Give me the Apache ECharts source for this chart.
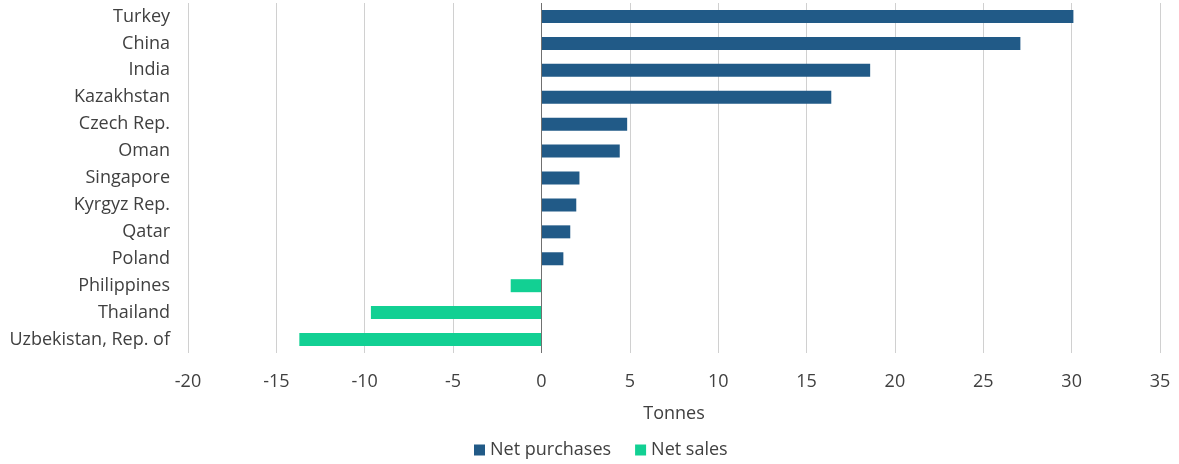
<!DOCTYPE html>
<html>
<head>
<meta charset="utf-8">
<script src="https://cdn.jsdelivr.net/npm/echarts@6/dist/echarts.min.js"></script>
<style>html,body{margin:0;padding:0;background:#fff;}#c{width:1179px;height:464px;}</style>
</head>
<body>
<div id="c"></div>
<script>
const categories = ['Turkey','China','India','Kazakhstan','Czech Rep.','Oman','Singapore','Kyrgyz Rep.','Qatar','Poland','Philippines','Thailand','Uzbekistan, Rep. of'];
const netPurchases = [30.1, 27.1, 18.6, 16.4, 4.85, 4.43, 2.15, 1.97, 1.63, 1.24, '-', '-', '-'];
const netSales = ['-', '-', '-', '-', '-', '-', '-', '-', '-', '-', -1.74, -9.65, -13.7];
const xTicks = {min: -20, max: 35, interval: 5};

const chart = echarts.init(document.getElementById('c'));
const font = "'Open Sans', 'Noto Sans', sans-serif";
chart.setOption({
  animation: false,
  textStyle: {fontFamily: font},
  grid: {left: 188, right: 19, top: 3, bottom: 111, containLabel: false},
  xAxis: {
    type: 'value', min: xTicks.min, max: xTicks.max, interval: xTicks.interval,
    name: 'Tonnes', nameLocation: 'middle', nameGap: 52,
    nameTextStyle: {color: '#404040', fontSize: 18, fontFamily: font},
    axisLine: {show: false}, axisTick: {show: false},
    axisLabel: {color: '#404040', fontSize: 18, margin: 20, fontFamily: font},
    splitLine: {show: true, lineStyle: {color: '#d0d0d0', width: 1}}
  },
  yAxis: {
    type: 'category', data: categories, inverse: true,
    axisLine: {show: false}, axisTick: {show: false},
    axisLabel: {color: '#404040', fontSize: 18, margin: 18, fontFamily: font}
  },
  legend: {
    top: 436, left: 469, itemWidth: 11, itemHeight: 11, itemGap: 24,
    icon: 'rect',
    textStyle: {color: '#404040', fontSize: 18, fontFamily: font},
    data: ['Net purchases', 'Net sales']
  },
  series: [
    {name: 'Net purchases', type: 'bar', stack: 's', data: netPurchases, barWidth: 13,
     itemStyle: {color: '#215a87'},
     markLine: {silent: true, symbol: 'none', label: {show: false},
       lineStyle: {color: '#707070', width: 1, type: 'solid'}, data: [{xAxis: 0}]}},
    {name: 'Net sales', type: 'bar', stack: 's', data: netSales, barWidth: 13,
     itemStyle: {color: '#12d093'}}
  ]
});
</script>
</body>
</html>
